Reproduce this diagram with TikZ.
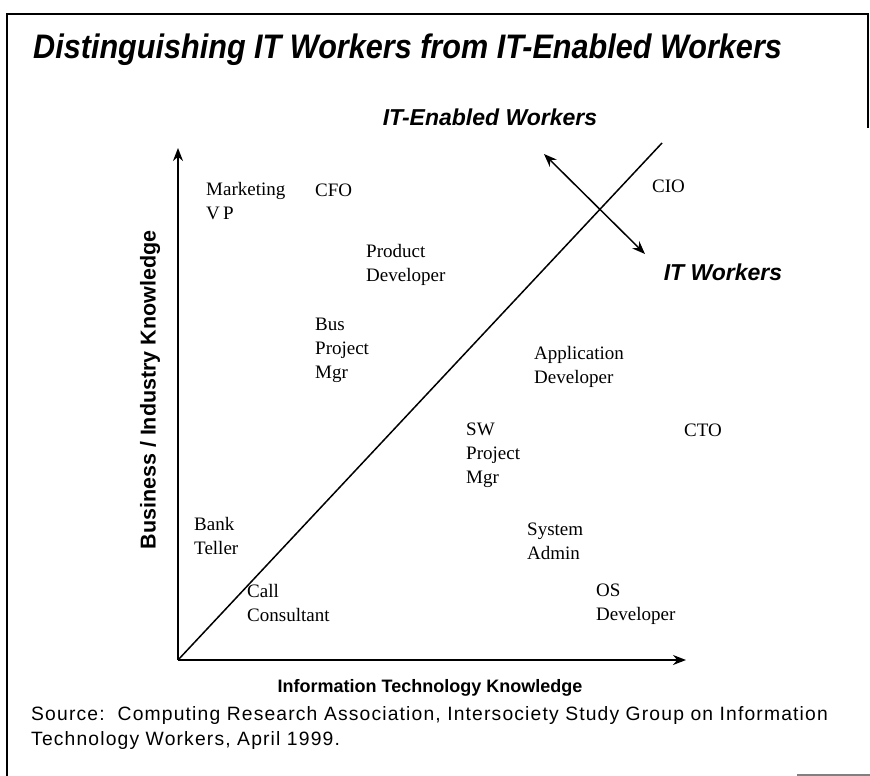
\documentclass[tikz,border=0pt]{standalone}
\usepackage{fontspec}
\setmainfont{Liberation Serif}
\setsansfont{Liberation Sans}
\newfontfamily\srcfont[LetterSpace=6]{Liberation Sans}
\usetikzlibrary{arrows.meta}

\begin{document}
\begin{tikzpicture}[x=1pt,y=-1pt,
    job/.style={font=\fontsize{19}{24}\selectfont, align=left, anchor=west, inner sep=0pt},
    side/.style={font=\sffamily\bfseries\itshape\fontsize{23}{26}\selectfont, inner sep=0pt},
    axislabel/.style={font=\sffamily\bfseries\fontsize{18}{20}\selectfont, inner sep=0pt},
    tip/.style={-{Stealth[length=13pt,width=10pt]}}]
    \useasboundingbox (0,0) rectangle (870,776);
    % frame
    \draw[line width=2.2pt] (7,776) -- (7,14) -- (868,14) -- (868,128);
    \draw[gray, line width=1.2pt] (797,775) -- (870,775);
    % title
    \node[anchor=west, inner sep=0pt, font=\sffamily\bfseries\itshape\fontsize{34}{38}\selectfont]
      (title) at (33,50) {\scalebox{0.9}[1]{Distinguishing IT Workers from IT-Enabled Workers}};
    % axes
    \coordinate (O) at (178,660);
    \coordinate (ytop) at (178,148);
    \coordinate (xend) at (686,660);
    \coordinate (diag) at (662,143);
    \draw[tip, line width=1.8pt] (O) -- (ytop);
    \draw[tip, line width=1.8pt] (O) -- (xend);
    \draw[line width=1.5pt] (O) -- (diag);
    \coordinate (up) at (544,154);
    \coordinate (down) at (645,254);
    \draw[{Stealth[length=13pt,width=10pt]}-{Stealth[length=13pt,width=10pt]}, line width=1.5pt] (up) -- (down);
    % sides
    \node[side] (enabled) at (490,117) {IT-Enabled Workers};
    \node[side] (itw) at (723,272) {IT Workers};
    \node[axislabel, rotate=90, font=\sffamily\bfseries\fontsize{21.5}{24}\selectfont] (ylab) at (150,390) {Business / Industry Knowledge};
    \node[axislabel] (xlab) at (430,688) {Information Technology Knowledge};
    % jobs
    \node[job] (mvp) at (206,201) {Marketing\\V\,P};
    \node[job] (cfo) at (315,190) {CFO};
    \node[job] (prod) at (366,265) {Product\\Developer};
    \node[job] (bus) at (315,350) {Bus\\Project\\Mgr};
    \node[job] (cio) at (652,186) {CIO};
    \node[job] (app) at (534,367) {Application\\Developer};
    \node[job] (swpm) at (466,455) {SW\\Project\\Mgr};
    \node[job] (cto) at (684,430) {CTO};
    \node[job] (sys) at (527,541) {System\\Admin};
    \node[job] (os) at (596,604) {OS\\Developer};
    \node[job] (bank) at (194,536) {Bank\\Teller};
    \node[job] (call) at (247,603) {Call\\Consultant};
    % source
    \node[anchor=north west, inner sep=0pt, align=left,
      font=\srcfont\fontsize{19.3}{25}\selectfont] (src) at (31,706)
      {Source:\ \ Computing Research Association, Intersociety Study Group on Information\\Technology Workers, April 1999.};
\end{tikzpicture}
\end{document}
